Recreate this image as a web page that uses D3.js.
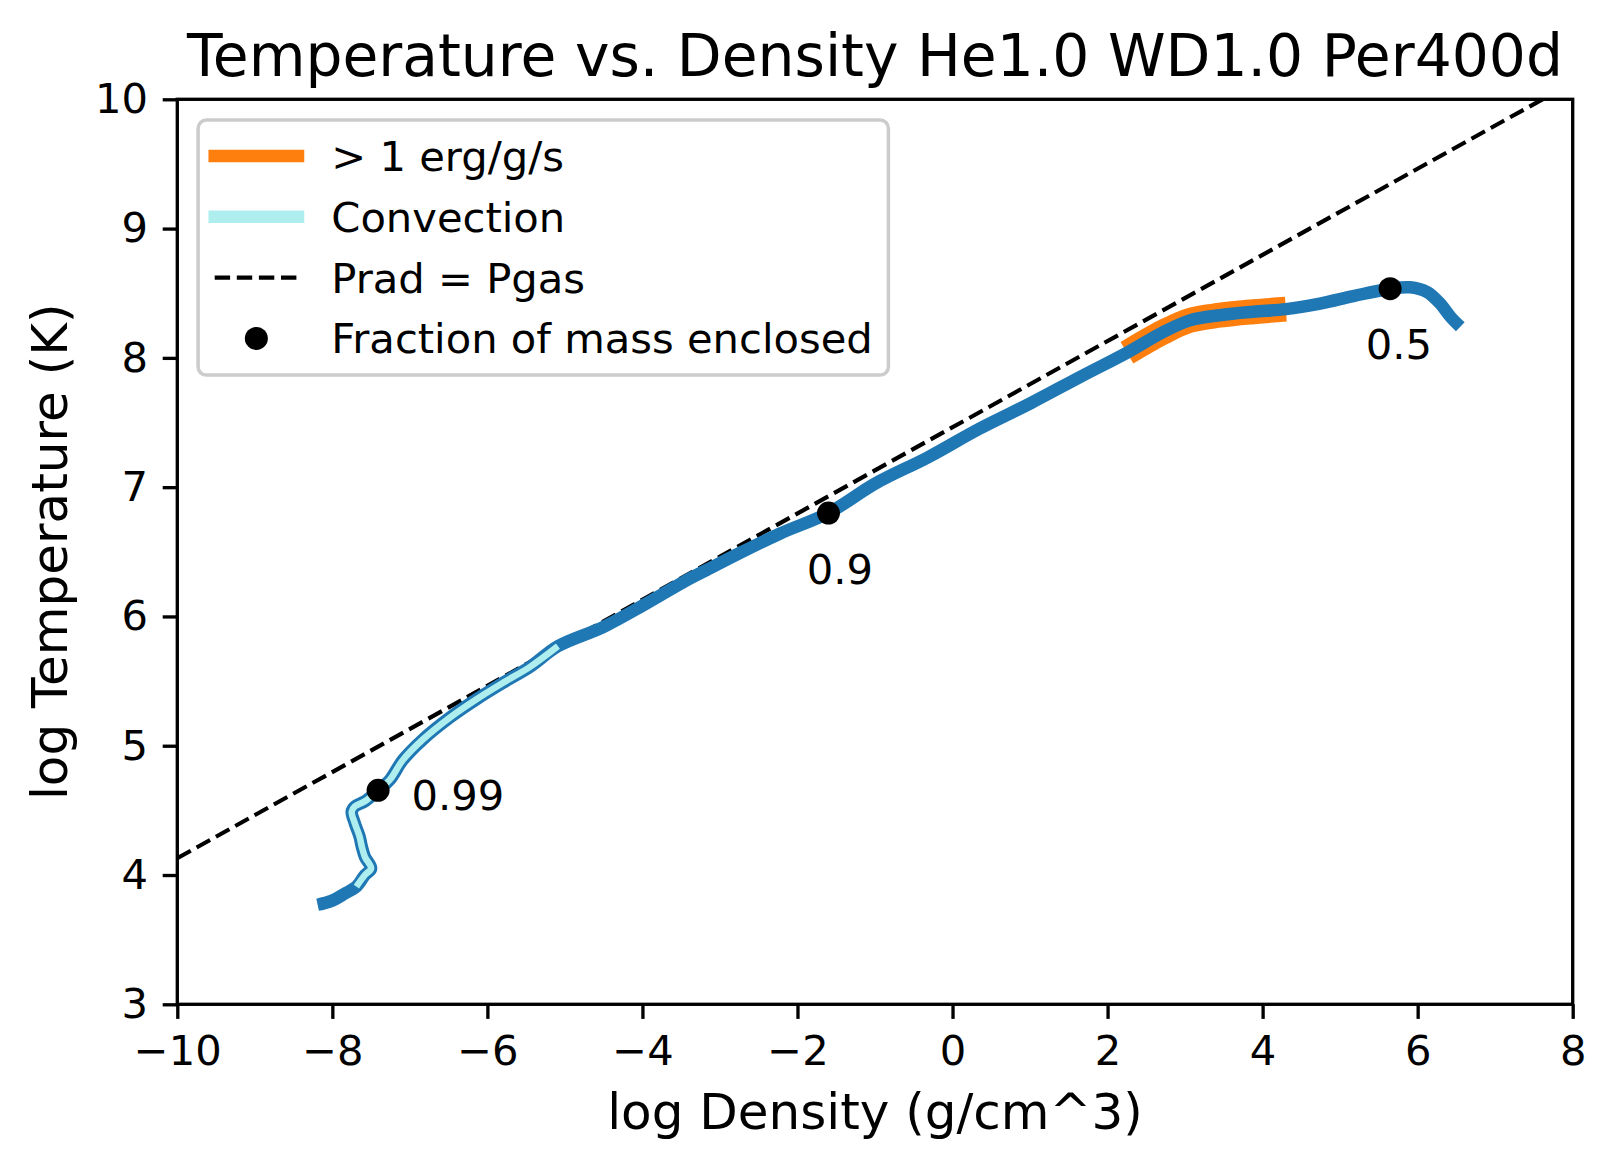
<!DOCTYPE html>
<html>
<head>
<meta charset="utf-8">
<script src="https://cdn.jsdelivr.net/npm/d3@7"></script>
<style>
  html, body { margin: 0; padding: 0; background: #fff; }
  svg { display: block; font-family: "DejaVu Sans", sans-serif; }
</style>
</head>
<body>
<svg id="chart" width="1615" height="1169"></svg>
<script>
// ---------------- data ----------------
const logRho = [-8.19, -8.01, -7.83, -7.69, -7.58, -7.50, -7.58, -7.62, -7.65, -7.71, -7.75, -7.71, -7.58, -7.41,
  -7.26, -7.09, -6.83, -6.48, -6.14, -5.79, -5.45, -5.09, -4.50, -3.95, -3.43, -3.17, -2.78, -2.23, -1.60,
  -0.99, -0.32, 0.34, 1.01, 1.67, 2.25, 2.72, 3.06, 3.45, 3.88, 4.30, 4.74, 5.17, 5.645, 5.90, 6.12, 6.29, 6.42, 6.55];
const logT = [3.77, 3.80, 3.86, 3.91, 4.00, 4.05, 4.14, 4.22, 4.30, 4.40, 4.49, 4.53, 4.57, 4.655,
  4.735, 4.89, 5.05, 5.22, 5.36, 5.49, 5.61, 5.77, 5.92, 6.10, 6.28, 6.36, 6.48, 6.64, 6.80,
  7.03, 7.23, 7.45, 7.65, 7.86, 8.04, 8.20, 8.29, 8.33, 8.357, 8.377, 8.42, 8.478, 8.535, 8.546, 8.51, 8.42, 8.32, 8.24];
const convIdx = [3, 21];      // convection zone (index range in profile)
const heatIdx = [34, 39];     // > 1 erg/g/s (index range in profile)
const pradRho = [-10, 8];
const pradT = [4.13, 10.13];
const massLabels = ["0.99", "0.9", "0.5"];
const massRho = [-7.41, -1.60, 5.645];
const massT = [4.655, 6.80, 8.535];
const labelRho = [-6.98, -1.88, 5.33];
const labelT = [4.50, 6.25, 7.99];
const xTicks = [-10, -8, -6, -4, -2, 0, 2, 4, 6, 8];
const yTicks = [3, 4, 5, 6, 7, 8, 9, 10];
const legendLabels = ["> 1 erg/g/s", "Convection", "Prad = Pgas", "Fraction of mass enclosed"];

// ---------------- layout ----------------
const L = 177.3, R = 1572.7, T = 99.3, B = 1004.3;
const FS = 41.67;
const svg = d3.select("#chart");
const x = d3.scaleLinear().domain([-10, 8]).range([L, R]);
const y = d3.scaleLinear().domain([3, 10]).range([B, T]);

svg.append("defs").append("clipPath").attr("id", "clip")
  .append("rect").attr("x", L).attr("y", T).attr("width", R - L).attr("height", B - T);

const plot = svg.append("g").attr("clip-path", "url(#clip)");

const pts = logRho.map((r, i) => [r, logT[i]]);
const line = d3.line().x(d => x(d[0])).y(d => y(d[1])).curve(d3.curveCatmullRom.alpha(0.5));

// Prad = Pgas
plot.append("path")
  .datum(pradRho.map((r, i) => [r, pradT[i]]))
  .attr("d", d3.line().x(d => x(d[0])).y(d => y(d[1])))
  .attr("fill", "none").attr("stroke", "#000").attr("stroke-width", 4.17)
  .attr("stroke-dasharray", "15.4,6.7");

// heating region (orange, wide)
plot.append("path")
  .datum(pts.slice(heatIdx[0], heatIdx[1] + 1))
  .attr("d", line)
  .attr("fill", "none").attr("stroke", "#ff7f0e").attr("stroke-width", 25)
  .attr("stroke-linecap", "butt");

// main profile
plot.append("path")
  .datum(pts)
  .attr("d", line)
  .attr("fill", "none").attr("stroke", "#1f77b4").attr("stroke-width", 12.5)
  .attr("stroke-linecap", "butt").attr("stroke-linejoin", "round");

// convection (inner)
plot.append("path")
  .datum(pts.slice(convIdx[0], convIdx[1] + 1))
  .attr("d", line)
  .attr("fill", "none").attr("stroke", "#afeeee").attr("stroke-width", 6.5)
  .attr("stroke-linecap", "butt").attr("stroke-linejoin", "round");

// mass fraction markers
svg.selectAll("circle.mf").data(massRho).enter().append("circle")
  .attr("class", "mf")
  .attr("cx", d => x(d)).attr("cy", (d, i) => y(massT[i]))
  .attr("r", 11.5).attr("fill", "#000");

svg.selectAll("text.mf").data(massLabels).enter().append("text")
  .attr("class", "mf")
  .attr("x", (d, i) => x(labelRho[i])).attr("y", (d, i) => y(labelT[i]))
  .attr("font-size", FS).attr("fill", "#000").text(d => d);

// ---------------- axes ----------------
const xAxis = d3.axisBottom(x).tickValues(xTicks).tickSize(14.6).tickPadding(17).tickSizeOuter(0)
  .tickFormat(d3.format("d"));
const yAxis = d3.axisLeft(y).tickValues(yTicks).tickSize(14.6).tickPadding(14.6).tickSizeOuter(0)
  .tickFormat(d3.format("d"));

const gx = svg.append("g").attr("transform", `translate(0,${B})`).call(xAxis);
const gy = svg.append("g").attr("transform", `translate(${L},0)`).call(yAxis);
[gx, gy].forEach(g => {
  g.select(".domain").remove();
  g.selectAll(".tick line").attr("stroke", "#000").attr("stroke-width", 3.33);
  g.selectAll(".tick text").attr("font-size", FS).attr("fill", "#000")
    .attr("font-family", "DejaVu Sans");
});

// frame
svg.append("rect").attr("x", L).attr("y", T).attr("width", R - L).attr("height", B - T)
  .attr("fill", "none").attr("stroke", "#000").attr("stroke-width", 3.33);

// labels
svg.append("text").attr("x", (L + R) / 2).attr("y", 76)
  .attr("text-anchor", "middle").attr("font-size", 58.3).attr("fill", "#000")
  .text("Temperature vs. Density He1.0 WD1.0 Per400d");
svg.append("text").attr("x", (L + R) / 2).attr("y", 1129)
  .attr("text-anchor", "middle").attr("font-size", 50).attr("fill", "#000")
  .text("log Density (g/cm^3)");
svg.append("text").attr("transform", `translate(67,${(T + B) / 2}) rotate(-90)`)
  .attr("text-anchor", "middle").attr("font-size", 50).attr("fill", "#000")
  .text("log Temperature (K)");

// ---------------- legend ----------------
const lg = svg.append("g");
lg.append("rect").attr("x", 198.1).attr("y", 120.1).attr("width", 690.3).attr("height", 255)
  .attr("rx", 8.3).attr("fill", "#fff").attr("fill-opacity", 0.8)
  .attr("stroke", "#cccccc").attr("stroke-width", 3.5);
const rowY = [156, 216.8, 277.6, 338.4];
const hx0 = 214.7, hx1 = 298;
lg.append("line").attr("x1", hx0).attr("x2", hx1).attr("y1", rowY[0]).attr("y2", rowY[0])
  .attr("stroke", "#ff7f0e").attr("stroke-width", 12.5).attr("stroke-linecap", "square");
lg.append("line").attr("x1", hx0).attr("x2", hx1).attr("y1", rowY[1]).attr("y2", rowY[1])
  .attr("stroke", "#afeeee").attr("stroke-width", 12.5).attr("stroke-linecap", "square");
lg.append("line").attr("x1", hx0).attr("x2", hx1).attr("y1", rowY[2]).attr("y2", rowY[2])
  .attr("stroke", "#000").attr("stroke-width", 4.17).attr("stroke-dasharray", "15.4,6.7");
lg.append("circle").attr("cx", (hx0 + hx1) / 2).attr("cy", rowY[3]).attr("r", 11.5).attr("fill", "#000");
lg.selectAll("text.lg").data(legendLabels).enter().append("text")
  .attr("class", "lg").attr("x", 331.3).attr("y", (d, i) => rowY[i]).attr("dy", "0.36em")
  .attr("font-size", FS).attr("fill", "#000").text(d => d);
</script>
</body>
</html>
